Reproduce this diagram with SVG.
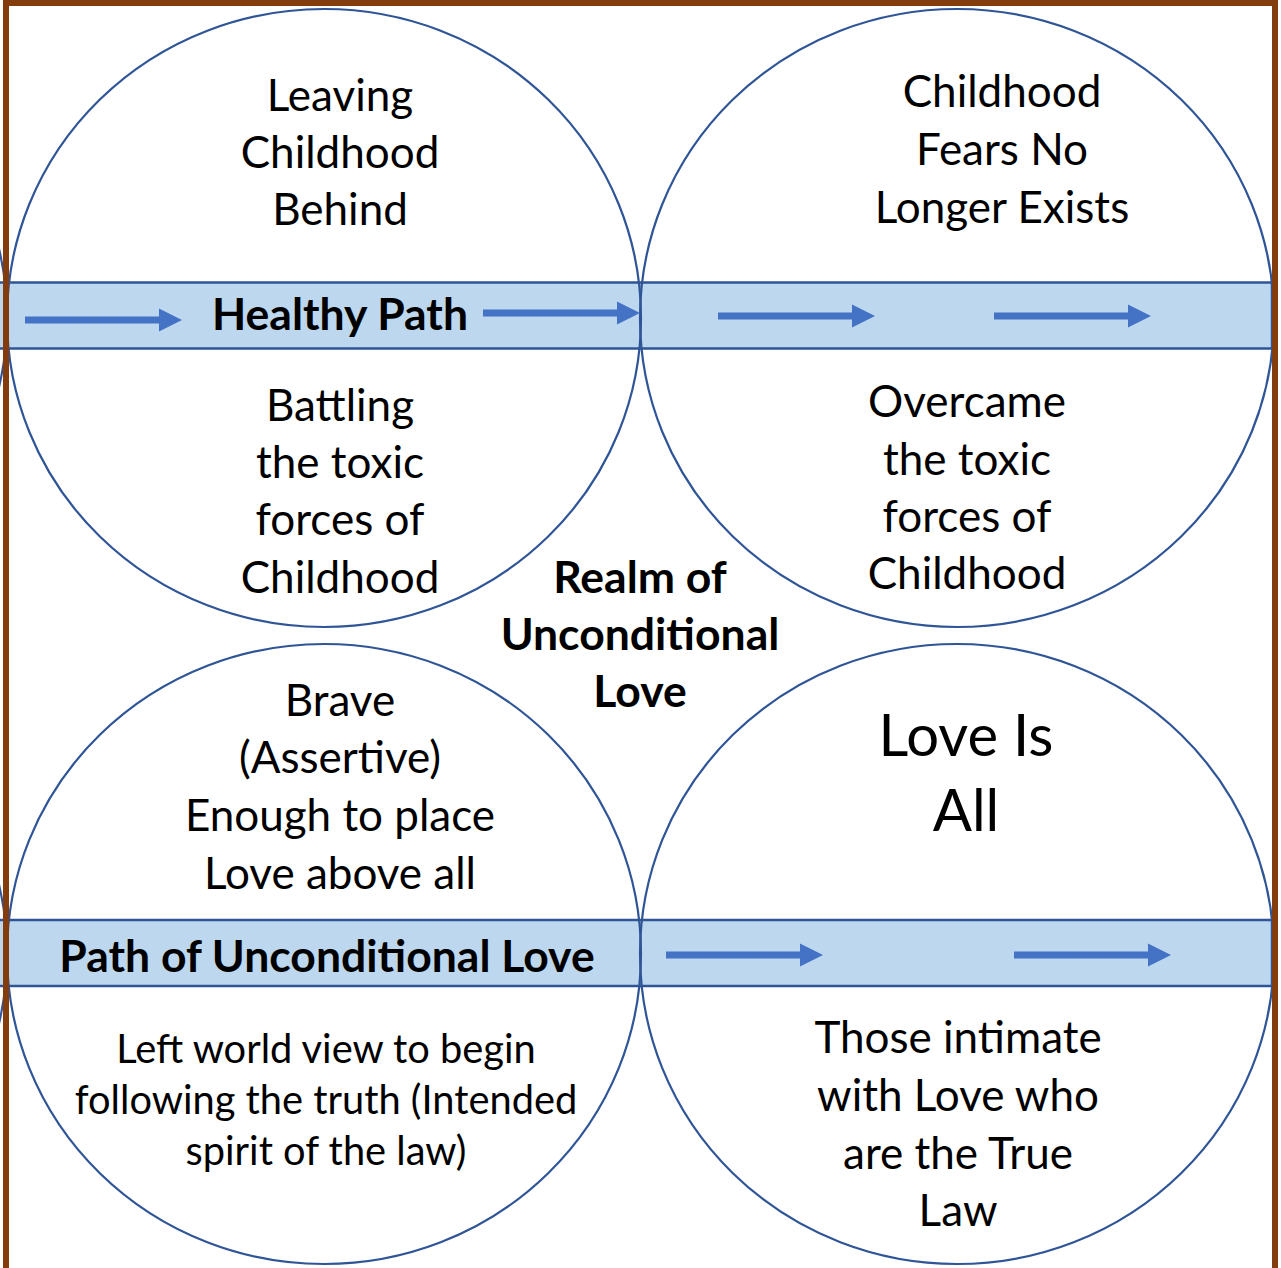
<svg xmlns="http://www.w3.org/2000/svg" xmlns:xlink="http://www.w3.org/1999/xlink" width="1281" height="1268" viewBox="0 0 1281 1268">
  <style>
    .band { fill: #BDD7EE; stroke: #2F5597; stroke-width: 2.5; }
    .ring { fill: none; stroke: #2F5597; stroke-width: 2.2; }
    .arrow { fill: #4472C4; }
    .txt { font-family: Lato, "Open Sans", "Liberation Sans", sans-serif; font-size: 44px; fill: #000; text-anchor: middle; }
    .bold { font-weight: bold; font-size: 44.5px; }
    .small { font-size: 39.8px; }
    .large { font-size: 58px; }
    .frame { fill: none; stroke: #843C0C; stroke-width: 6; }
  </style>
  <defs>
    <!-- block arrow, tip at (157,0) -->
    <polygon id="blockArrow" points="0,-3.5 134,-3.5 134,-11.5 157,0 134,11.5 134,3.5 0,3.5"/>
  </defs>

  <rect x="0" y="0" width="1281" height="1268" fill="#fff"/>

  <!-- horizontal path bands -->
  <g id="bands">
    <rect id="band-healthy" class="band" x="-5" y="282.5" width="1277" height="66"/>
    <rect id="band-unconditional" class="band" x="-5" y="920" width="1277" height="66"/>
  </g>

  <!-- circles -->
  <g id="circles">
    <ellipse id="circle-left-top" class="ring" cx="-310" cy="318" rx="317" ry="309"/>
    <ellipse id="circle-left-bottom" class="ring" cx="-310" cy="954" rx="317" ry="310"/>
    <ellipse id="circle-tl" class="ring" cx="324" cy="318" rx="317" ry="309"/>
    <ellipse id="circle-tr" class="ring" cx="957" cy="318" rx="317" ry="309"/>
    <ellipse id="circle-bl" class="ring" cx="324" cy="954" rx="317" ry="310"/>
    <ellipse id="circle-br" class="ring" cx="957" cy="954" rx="317" ry="310"/>
  </g>

  <!-- connectors: path arrows -->
  <g id="connectors" class="arrow">
    <use xlink:href="#blockArrow" x="25" y="320"/>
    <use xlink:href="#blockArrow" x="483" y="313"/>
    <use xlink:href="#blockArrow" x="718" y="316"/>
    <use xlink:href="#blockArrow" x="994" y="316"/>
    <use xlink:href="#blockArrow" x="666" y="955"/>
    <use xlink:href="#blockArrow" x="1014" y="955"/>
  </g>

  <g id="node-tl-top" class="txt">
    <text x="340" y="111">Leaving</text>
    <text x="340" y="168">Childhood</text>
    <text x="340" y="225">Behind</text>
  </g>
  <g id="node-tl-bottom" class="txt">
    <text x="340" y="421">Battling</text>
    <text x="340" y="478">the toxic</text>
    <text x="340" y="535">forces of</text>
    <text x="340" y="593">Childhood</text>
  </g>
  <g id="node-tr-top" class="txt">
    <text x="1002" y="107">Childhood</text>
    <text x="1002" y="165">Fears No</text>
    <text x="1002" y="223">Longer Exists</text>
  </g>
  <g id="node-tr-bottom" class="txt">
    <text x="967" y="417">Overcame</text>
    <text x="967" y="475">the toxic</text>
    <text x="967" y="532">forces of</text>
    <text x="967" y="589">Childhood</text>
  </g>
  <g id="node-healthy-path" class="txt bold">
    <text x="340" y="330">Healthy Path</text>
  </g>
  <g id="node-realm" class="txt bold">
    <text x="640" y="593">Realm of</text>
    <text x="640" y="650">Unconditional</text>
    <text x="640" y="707">Love</text>
  </g>
  <g id="node-bl-top" class="txt">
    <text x="340" y="716">Brave</text>
    <text x="340" y="773">(Assertive)</text>
    <text x="340" y="831">Enough to place</text>
    <text x="340" y="889">Love above all</text>
  </g>
  <g id="node-path-unconditional" class="txt bold">
    <text x="327" y="972">Path of Unconditional Love</text>
  </g>
  <g id="node-bl-bottom" class="txt small">
    <text x="326" y="1063">Left world view to begin</text>
    <text x="326" y="1114">following the truth (Intended</text>
    <text x="326" y="1165">spirit of the law)</text>
  </g>
  <g id="node-br-top" class="txt large">
    <text x="966" y="756">Love Is</text>
    <text x="966" y="831">All</text>
  </g>
  <g id="node-br-bottom" class="txt">
    <text x="958" y="1053">Those intimate</text>
    <text x="958" y="1111">with Love who</text>
    <text x="958" y="1169">are the True</text>
    <text x="958" y="1226">Law</text>
  </g>

  <!-- outer frame -->
  <rect id="frame" class="frame" x="6" y="3" width="1269" height="1268"/>
</svg>
